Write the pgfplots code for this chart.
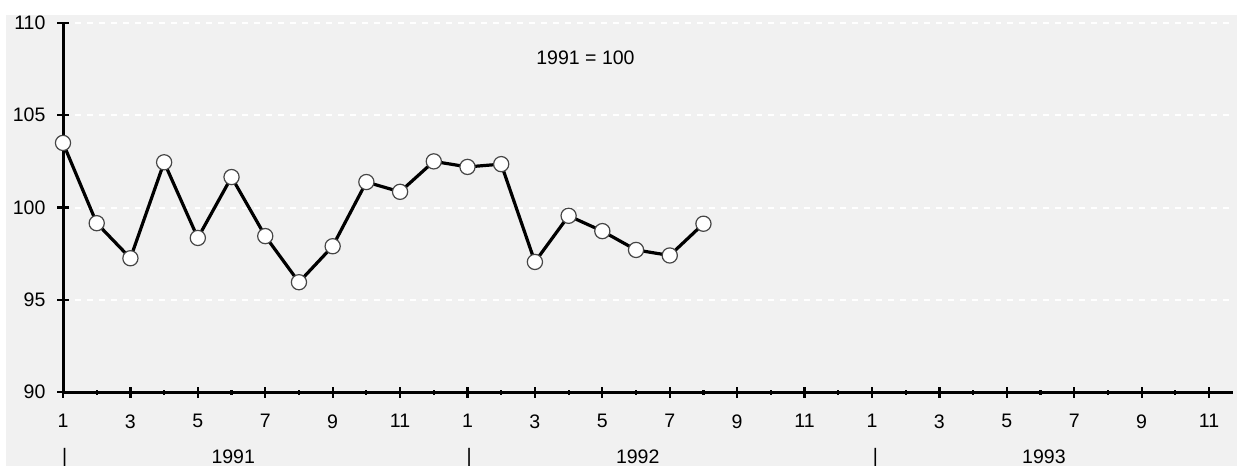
\documentclass[border=0pt]{standalone}
\usepackage{fontspec}
\setmainfont{Liberation Sans}
\usepackage{pgfplots}
\pgfplotsset{compat=1.18}
\definecolor{bg}{RGB}{241,241,241}
\definecolor{markedge}{RGB}{70,70,70}

\begin{document}
\begin{tikzpicture}
% background of the whole sheet (1px = 0.5bp, axis origin at pixel 63,392)
\fill[white] (-31.5bp,-37bp) rectangle (587bp,196bp);
\fill[bg] (-28.5bp,-37bp) rectangle (587bp,188.5bp);
\begin{axis}[
    scale only axis,
    width=585bp, height=184.5bp,
    xmin=1, xmax=35.71,
    ymin=90, ymax=110,
    axis x line*=bottom, axis y line*=left,
    axis line style={line width=1.5bp, -},
    xtick={1,3,...,35},
    xticklabels={1,3,5,7,9,11,1,3,5,7,9,11,1,3,5,7,9,11},
    minor x tick num=1,
    ytick={90,95,100,105,110},
    tick align=center,
    major tick length=5.5bp,
    minor tick length=2.5bp,
    tick style={black, line width=1.1bp},
    ymajorgrids,
    major grid style={white, dashed, line width=1bp},
    font=\fontsize{9.8}{11}\selectfont,
    /pgf/number format/assume math mode=true,
    xticklabel style={yshift=-5bp},
    yticklabel style={xshift=-2.5bp},
    clip=false,
]
\addplot[black, line width=1.6bp, mark=*, mark size=3.8bp,
    mark options={fill=white, draw=markedge, line width=0.6bp}] coordinates {
    (1,103.5) (2,99.15) (3,97.25) (4,102.45) (5,98.35) (6,101.65)
    (7,98.45) (8,95.95) (9,97.9) (10,101.38) (11,100.85) (12,102.5)
    (13,102.2) (14,102.35) (15,97.05) (16,99.55) (17,98.72) (18,97.7)
    (19,97.4) (20,99.12)
};
\node[font=\fontsize{9.8}{11}\selectfont] at (axis cs:16.5,108.1) {1991 = 100};
\node[font=\fontsize{9.8}{11}\selectfont, yshift=-32.5bp] at (axis cs:1.05,90) {|};
\node[font=\fontsize{9.8}{11}\selectfont, yshift=-32.5bp] at (axis cs:13.05,90) {|};
\node[font=\fontsize{9.8}{11}\selectfont, yshift=-32.5bp] at (axis cs:25.1,90) {|};
\node[font=\fontsize{9.8}{11}\selectfont, yshift=-32.5bp] at (axis cs:6.05,90) {1991};
\node[font=\fontsize{9.8}{11}\selectfont, yshift=-32.5bp] at (axis cs:18.05,90) {1992};
\node[font=\fontsize{9.8}{11}\selectfont, yshift=-32.5bp] at (axis cs:30.1,90) {1993};
\end{axis}
\pgfresetboundingbox
\path[use as bounding box] (-31.5bp,-37bp) rectangle (587bp,196bp);
\end{tikzpicture}
\end{document}
